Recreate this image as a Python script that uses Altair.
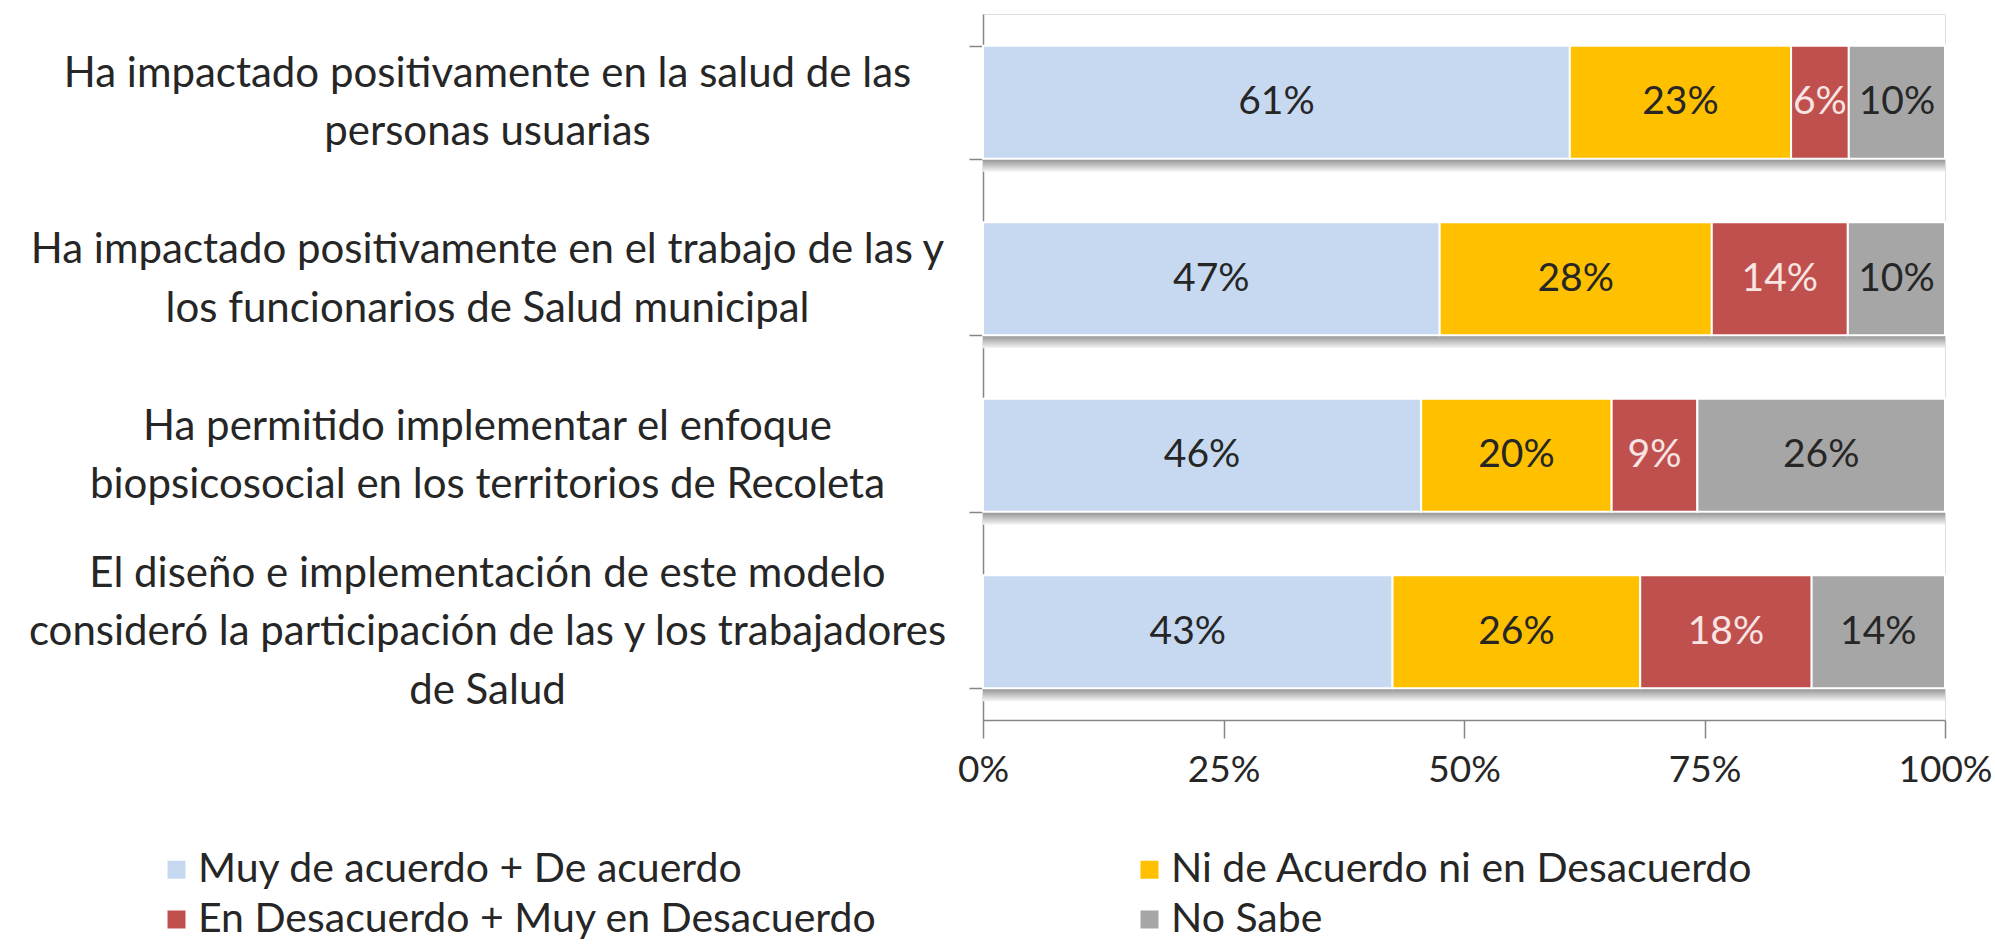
import altair as alt
import pandas as pd

categories = [
    "Ha impactado positivamente en la salud de las|personas usuarias",
    "Ha impactado positivamente en el trabajo de las y|los funcionarios de Salud municipal",
    "Ha permitido implementar el enfoque|biopsicosocial en los territorios de Recoleta",
    "El diseño e implementación de este modelo|consideró la participación de las y los trabajadores|de Salud",
]
series = [
    "Muy de acuerdo + De acuerdo",
    "Ni de Acuerdo ni en Desacuerdo",
    "En Desacuerdo + Muy en Desacuerdo",
    "No Sabe",
]
colors = ["#C6D9F1", "#FFC000", "#C0504D", "#A6A6A6"]
acuerdo = [61, 47, 46, 43]
neutral = [23, 28, 20, 26]
desacuerdo = [6, 14, 9, 18]
no_sabe = [10, 10, 26, 14]
x_ticks = [0, 0.25, 0.5, 0.75, 1]

rows = []
for i, cat in enumerate(categories):
    for j, (s, vals) in enumerate(zip(series, [acuerdo, neutral, desacuerdo, no_sabe])):
        rows.append({"cat": cat, "series": s, "order": j, "value": vals[i], "label": f"{vals[i]}%"})
df = pd.DataFrame(rows)
shadow_df = pd.DataFrame({"cat": categories})

# legend is filled column by column: order entries so rows read as in the reference
legend_order = [0, 2, 1, 3]
legend_domain = [series[k] for k in legend_order]
legend_range = [colors[k] for k in legend_order]

FONT = "Lato"
TXT = "#262626"
AX = "#868686"
LH = 58.5

y_enc = alt.Y(
    "cat:N", sort=categories, title=None,
    scale=alt.Scale(paddingInner=0.36, paddingOuter=0.18),
    axis=alt.Axis(
        labelExpr="split(datum.label, '|')",
        labelFontSize=42, labelFont=FONT, labelColor=TXT, labelLineHeight=LH,
        labelAlign="center", labelBaseline="middle", labelPadding=482, labelLimit=1200,
        labelOffset=alt.condition("length(split(datum.value, '|')) > 2",
                                  alt.value(-LH), alt.value(-LH / 2)),
        tickSize=14, tickBand="extent", tickColor=AX, domainColor=AX, domainWidth=1.5, tickWidth=1.5,
    ),
)

base = alt.Chart(df).transform_stack(
    stack="value", groupby=["cat"], as_=["x0", "x1"],
    sort=[alt.SortField("order")], offset="normalize",
).transform_calculate(mid="(datum.x0 + datum.x1) / 2")

x_scale = alt.Scale(domain=[0, 1], nice=False)

shadow = alt.Chart(shadow_df).mark_bar(
    yOffset=13,
    fill={"gradient": "linear", "x1": 0, "x2": 0, "y1": 0, "y2": 1,
          "stops": [{"offset": 0, "color": "#8a8a8a"}, {"offset": 0.88, "color": "#8a8a8a"},
                    {"offset": 1, "color": "#f6f6f6"}]},
).encode(x=alt.datum(0, scale=x_scale), x2=alt.datum(1), y=y_enc)

bars = base.mark_bar(stroke="white", strokeWidth=2).encode(
    x=alt.X("x0:Q", scale=x_scale, title=None,
            axis=alt.Axis(format="%", values=x_ticks, grid=False, tickSize=18, tickColor=AX,
                          tickWidth=1.5, domainColor=AX, domainWidth=1.5, labelFontSize=37,
                          labelFont=FONT, labelColor=TXT, labelPadding=14, labelFlush=False)),
    x2="x1:Q",
    y=y_enc,
    color=alt.Color(
        "series:N",
        scale=alt.Scale(domain=legend_domain, range=legend_range),
        legend=alt.Legend(
            title=None, orient="none", legendX=-827, legendY=835, columns=2,
            symbolType="square", symbolSize=324, symbolStrokeWidth=0, labelOffset=1,
            labelFontSize=41, labelFont=FONT, labelColor=TXT, columnPadding=252, rowPadding=8,
            labelLimit=1000,
        ),
    ),
    order=alt.Order("order:Q"),
)

texts = base.mark_text(fontSize=39, font=FONT, baseline="middle", align="center").encode(
    x=alt.X("mid:Q", scale=x_scale),
    y=y_enc,
    text="label:N",
    color=alt.condition(alt.datum.order == 2, alt.value("#F7E4E3"), alt.value(TXT)),
)

chart = alt.layer(shadow, bars, texts).properties(
    width=962, height=706,
    autosize=alt.AutoSizeParams(type="none"),
    padding={"left": 983, "top": 14, "right": 50, "bottom": 225},
).configure_view(stroke="#D9D9D9", strokeWidth=1.5).configure(font=FONT)

chart.save("out.html", embed_options={"renderer": "svg", "actions": False})
